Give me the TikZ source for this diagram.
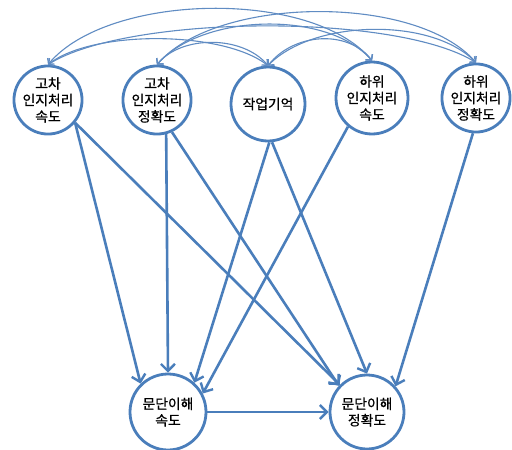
\documentclass[tikz,border=0pt]{standalone}
\usepackage{fontspec}
\setmainfont{Noto Sans CJK KR}[FakeBold=0.6]
\usetikzlibrary{arrows.meta,calc}
\definecolor{edgeblue}{RGB}{74,126,187}
\definecolor{arcblue}{RGB}{96,140,195}
\newcommand\corrarc[4]{\draw[corr] (#1.north) .. controls ($(#1.north)+(#3,-#4)$) and ($(#2.north)+(-#3,-#4)$) .. (#2.north);}
\begin{document}
\begin{tikzpicture}[x=1pt,y=-1pt,
  var/.style={circle, draw=edgeblue, line width=2.8pt, fill=white, minimum size=70pt, inner sep=0pt, align=center, font=\fontsize{13.8}{16.5}\selectfont},
  pathar/.style={draw=edgeblue, line width=2.6pt, -{Straight Barb[length=7pt,width=14pt,line width=2.4pt]}},
  corr/.style={draw=arcblue, line width=1.1pt, {Straight Barb[length=4pt,width=9pt,line width=1.1pt]}-{Straight Barb[length=4pt,width=9pt,line width=1.1pt]}}]
\fill[white] (0,0) rectangle (512,450);
\useasboundingbox (0,0) rectangle (512,450);

\node[var, minimum size=68pt] (g1) at (48,100) {고차\\인지처리\\속도};
\node[var, minimum size=65pt] (g2) at (157,100) {고차\\인지처리\\정확도};
\node[var, minimum size=74pt] (wm) at (268,104) {작업기억};
\node[var, minimum size=72pt] (l1) at (372,98) {하위\\인지처리\\속도};
\node[var, minimum size=66pt] (l2) at (476,98) {하위\\인지처리\\정확도};
\node[var, minimum size=76pt] (bl) at (168,412) {문단이해\\속도};
\node[var, minimum size=74pt] (br) at (367,412) {문단이해\\정확도};

\draw[pathar] (g1.-40) -- (bl.134);
\draw[pathar] (g1.-40) -- (br.135);
\draw[pathar] (g2.-75) -- (bl.90);
\draw[pathar] (g2.-65) -- (br.137);
\draw[pathar] (wm.-88) -- (bl.48);
\draw[pathar] (wm.-84) -- (br.90);
\draw[pathar] (l1.-130) -- (bl.28);
\draw[pathar] (l2.-95) -- (br.42);
\draw[pathar] (bl.east) -- (br.west);

\corrarc{g1}{l1}{60}{72}
\corrarc{g2}{l2}{60}{69}
\corrarc{g1}{l2}{80}{50}
\corrarc{g2}{l1}{45}{51}
\corrarc{g1}{wm}{45}{35}
\corrarc{g2}{wm}{25}{30}
\corrarc{wm}{l1}{25}{32}
\corrarc{wm}{l2}{45}{46}
\end{tikzpicture}
\end{document}
